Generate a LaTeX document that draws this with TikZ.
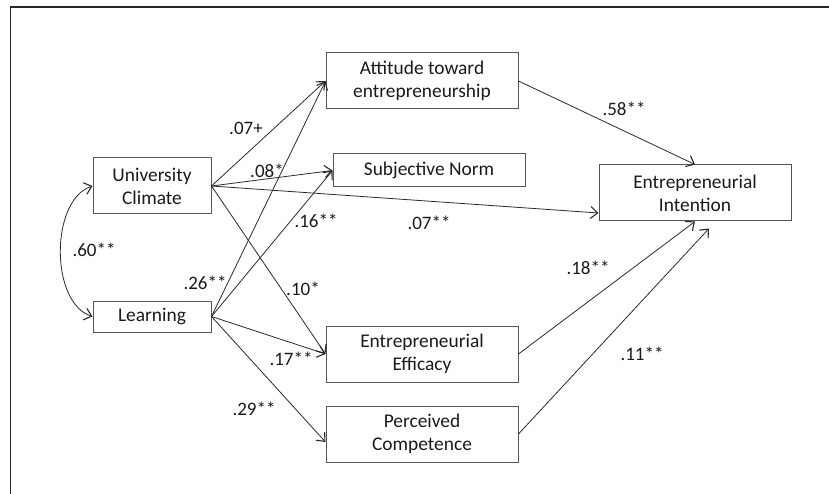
\documentclass[tikz,border=0pt]{standalone}
\usepackage{fontspec}
\setmainfont{Carlito}
\usetikzlibrary{arrows.meta}
\definecolor{ink}{HTML}{1A1A1A}
\definecolor{edge}{HTML}{2A2A2A}
\definecolor{boxline}{HTML}{555555}
\tikzset{
  varbox/.style={draw=boxline, line width=1pt, rectangle, align=center, inner sep=0pt,
    text=ink, font=\fontsize{19.4}{23}\selectfont},
  path/.style={draw=edge, line width=0.8pt, -{Straight Barb[length=7pt,width=12pt,line width=1.1pt]}},
  coef/.style={text=ink, font=\fontsize{19}{22}\selectfont, inner sep=0pt},
}
\begin{document}
\begin{tikzpicture}[x=1pt,y=-1pt]
\useasboundingbox (0,0) rectangle (829,494);
\draw[draw=black!85, line width=1.2pt] (10.5,494) -- (10.5,7) -- (829,7);

\node[varbox, minimum width=118pt, minimum height=56pt] (uc) at (152,186) {University\\Climate};
\node[varbox, minimum width=118pt, minimum height=31pt] (learn) at (152,316.5) {Learning};
\node[varbox, minimum width=192pt, minimum height=56pt] (att) at (422,81) {Attitude toward\\entrepreneurship};
\node[varbox, minimum width=192pt, minimum height=33pt] (sn) at (429,170.5) {Subjective Norm};
\node[varbox, minimum width=192pt, minimum height=56pt] (ei) at (695,193) {Entrepreneurial\\Intention};
\node[varbox, minimum width=192pt, minimum height=56pt] (eff) at (422,354) {Entrepreneurial\\Efficacy};
\node[varbox, minimum width=192pt, minimum height=56pt] (pc) at (422,434) {Perceived\\Competence};

\coordinate (eiw) at ([yshift=-20pt]ei.west);
\coordinate (pcw) at ([yshift=-8pt]pc.west);
\coordinate (eis) at ([xshift=14pt,yshift=-7pt]ei.south);

\draw[path] (uc.east) -- (att.west);
\draw[path] (uc.east) -- (sn.west);
\draw[path] (uc.east) -- (eiw);
\draw[path] (uc.east) -- (eff.west);
\draw[path] (learn.east) -- (att.west);
\draw[path] (learn.east) -- (sn.west);
\draw[path] (learn.east) -- (eff.west);
\draw[path] (learn.east) -- (pcw);
\draw[path] (att.east) -- (ei.north);
\draw[path] (eff.east) -- (ei.south);
\draw[path] (pc.east) -- (eis);
\draw[path, {Straight Barb[length=7pt,width=12pt,line width=1.1pt]}-{Straight Barb[length=7pt,width=12pt,line width=1.1pt]}]
  (uc.west) .. controls (50,200) and (50,303) .. (learn.west);

\node[coef] (c1) at (246,128) {.07+};
\node[coef] (c2) at (267,171) {.08*};
\node[coef] (c3) at (316,221) {.16**};
\node[coef] (c4) at (429,223) {.07**};
\node[coef] (c5) at (94,250) {.60**};
\node[coef] (c6) at (205,283) {.26**};
\node[coef] (c7) at (303,289) {.10*};
\node[coef] (c8) at (291,359) {.17**};
\node[coef] (c9) at (254,409) {.29**};
\node[coef] (c10) at (624,109) {.58**};
\node[coef] (c11) at (588,268) {.18**};
\node[coef] (c12) at (642,354) {.11**};
\end{tikzpicture}
\end{document}
